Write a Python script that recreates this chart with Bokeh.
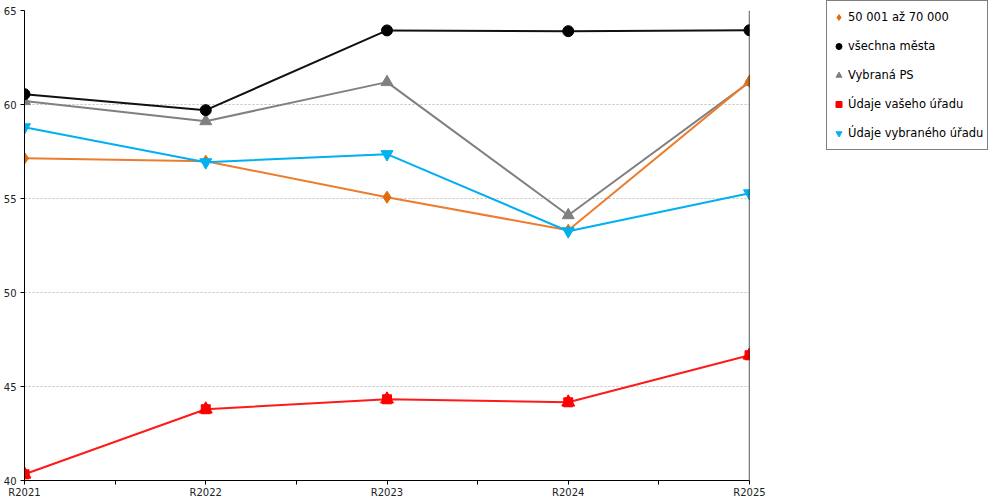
from bokeh.plotting import figure
from bokeh.models import (Range1d, FixedTicker, Span, Legend, LegendItem,
                          ColumnDataSource)
from bokeh.embed import file_html
from bokeh.resources import INLINE

categories = ["R2021", "R2022", "R2023", "R2024", "R2025"]
y_ticks = [40, 45, 50, 55, 60, 65]

s_50_70 = [57.14, 56.98, 55.07, 53.31, 61.23]
s_vsechna = [60.55, 59.70, 63.94, 63.90, 63.95]
s_vybrana_ps = [60.18, 59.11, 61.19, 54.11, 61.19]
s_vaseho = [40.33, 43.79, 44.32, 44.16, 46.66]
s_vybraneho = [58.79, 56.93, 57.36, 53.26, 55.28]

names = ["50 001 až 70 000", "všechna města", "Vybraná PS",
         "Údaje vašeho úřadu", "Údaje vybraného úřadu"]

xs = list(range(len(categories)))
FONT = "DejaVu Sans"

p = figure(frame_width=725, frame_height=470, output_backend="svg", toolbar_location=None,
           x_range=Range1d(0, len(categories) - 1), y_range=Range1d(y_ticks[0], y_ticks[-1]),
           min_border_top=10, min_border_left=0, min_border_bottom=0, min_border_right=240)
p.outline_line_color = None
p.background_fill_color = "white"

# axes
p.xaxis.ticker = FixedTicker(ticks=xs, minor_ticks=[i + 0.5 for i in xs[:-1]])
p.xaxis.major_label_overrides = {i: c for i, c in enumerate(categories)}
p.yaxis.ticker = FixedTicker(ticks=y_ticks, minor_ticks=[])
for ax in (p.xaxis[0], p.yaxis[0]):
    ax.axis_line_color = "black"
    ax.major_tick_line_color = "black"
    ax.minor_tick_line_color = "black"
    ax.major_tick_out = 4
    ax.major_tick_in = 0
    ax.minor_tick_out = 4
    ax.minor_tick_in = 0
    ax.major_label_text_font = FONT
    ax.major_label_text_font_size = "10px"
    ax.major_label_text_color = "#222222"
p.xaxis.major_label_standoff = 2
p.yaxis.major_label_standoff = 4

# right border line at the last category
p.add_layout(Span(location=xs[-1], dimension="height", line_color="black", line_width=1.3))

p.xgrid.grid_line_color = None
p.ygrid.ticker = FixedTicker(ticks=y_ticks[1:])
p.ygrid.grid_line_color = "#c0c0c0"
p.ygrid.grid_line_dash = "2 2"


def series(vals, color, marker, size, line_color=None):
    src = ColumnDataSource(dict(x=xs, y=vals))
    ln = p.line("x", "y", source=src, line_color=line_color or color, line_width=2)
    sc = p.scatter("x", "y", source=src, marker=marker, size=size,
                   fill_color=color, line_color=color)
    return [ln, sc]

r_gray = series(s_vybrana_ps, "#808080", "triangle", 12)
r_orange = series(s_50_70, "#E36C0A", "diamond", 12, "#EC7D2E")
r_black = series(s_vsechna, "#000000", "circle", 11, "#111111")
src_red = ColumnDataSource(dict(x=xs, y=s_vaseho))
red_line = p.line("x", "y", source=src_red, line_color="#FF1A1A", line_width=2)
red_sq = p.scatter("x", "y", source=src_red, marker="square", size=9,
                   fill_color="#FF0000", line_color="#FF0000")
red_tri = p.scatter("x", "y", source=src_red, marker="triangle", size=13,
                    fill_color="#FF0000", line_color="#FF0000")
r_blue = series(s_vybraneho, "#00B0F0", "inverted_triangle", 12)

legend_items = [
    LegendItem(label=names[0], renderers=[r_orange[1]]),
    LegendItem(label=names[1], renderers=[r_black[1]]),
    LegendItem(label=names[2], renderers=[r_gray[1]]),
    LegendItem(label=names[3], renderers=[red_sq, red_tri]),
    LegendItem(label=names[4], renderers=[r_blue[1]]),
]
legend = Legend(items=legend_items, location=(77, 330),
                label_text_font=FONT, label_text_font_size="11.5px",
                label_text_color="#000000",
                border_line_color="black", border_line_width=1,
                background_fill_color="white", background_fill_alpha=1,
                glyph_width=15, glyph_height=24, label_height=24,
                label_standoff=2, spacing=5, padding=4, margin=0)
p.add_layout(legend, "right")

open("out.html", "w").write(file_html(p, INLINE))
